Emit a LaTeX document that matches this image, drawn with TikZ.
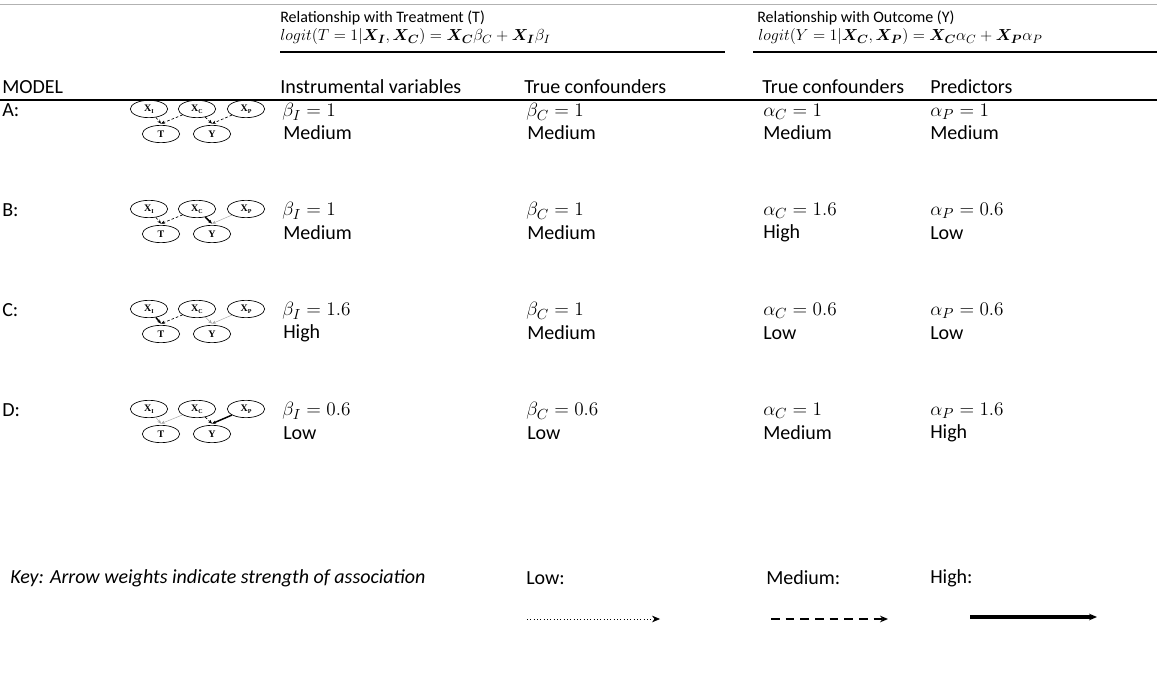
\documentclass[tikz,border=0pt]{standalone}
\usepackage{amsmath}
\usepackage{bm}
\usepackage{fontspec}
\setmainfont{Carlito}
\newfontfamily\nodefont{Liberation Serif}
\usetikzlibrary{arrows.meta,shapes.geometric}
\tikzset{
  vnode/.style={draw, ellipse, line width=0.5pt, minimum width=28pt, minimum height=13pt, inner sep=0pt,
    font=\nodefont\bfseries\fontsize{7.5}{8}\selectfont},
  tip/.style={-{Stealth[length=3pt,width=2.5pt]}},
  medium/.style={tip, line width=0.5pt, dash pattern=on 2pt off 1.5pt},
  high/.style={tip, line width=1.1pt},
  low/.style={tip, line width=0.35pt, draw=gray!70},
  txt/.style={anchor=west, inner sep=0pt},
  val/.style={txt, font=\fontsize{15.5}{17}\selectfont},
  head/.style={txt, font=\fontsize{12}{14}\selectfont},
  formula/.style={txt, font=\fontsize{12.5}{14}\selectfont},
  rule/.style={line width=0.8pt},
  keytip/.style={-{Stealth[length=6pt,width=5pt]}},
}
\newcommand{\xsub}[1]{X\raisebox{-0.35ex}{\fontsize{4.5}{5}\selectfont #1}}
\newcommand{\mdag}[6]{%
  \node[vnode] (#1I) at (149,#2) {\xsub{I}};
  \node[vnode] (#1C) at (197,#2) {\xsub{C}};
  \node[vnode] (#1P) at (246,#2) {\xsub{P}};
  \node[vnode] (#1T) at (161,#2+25) {T};
  \node[vnode] (#1Y) at (212,#2+25) {Y};
  \draw[#3] (#1I) -- ([yshift=1pt]#1T.north);
  \draw[#4] (#1C) -- ([yshift=1pt]#1T.north);
  \draw[#5] (#1C) -- ([yshift=1pt]#1Y.north);
  \draw[#6] (#1P) -- ([yshift=1pt]#1Y.north);
}
\begin{document}
\begin{tikzpicture}[x=0.75pt,y=-0.75pt,font=\fontsize{15}{17}\selectfont]
\useasboundingbox (0,0) rectangle (1157,677);
% top rule
\draw[line width=0.6pt, draw=gray!60] (0,4) -- (1157,4);
% group headers
\node[head] (h1) at (280,18) {Relationship with Treatment (T)};
\node[formula] (f1) at (280,37) {$logit(T=1|\bm{X_I},\bm{X_C}) = \bm{X_C}\beta_C + \bm{X_I}\beta_I$};
\draw[rule] (280,52) -- (725,52);
\node[head] (h2) at (757,18) {Relationship with Outcome (Y)};
\node[formula] (f2) at (758,37) {$logit(Y=1|\bm{X_C},\bm{X_P}) = \bm{X_C}\alpha_C + \bm{X_P}\alpha_P$};
\draw[rule] (753,52) -- (1157,52);
% column headers
\node[txt] (mh) at (2,87) {MODEL};
\node[txt] (c1) at (280,87) {Instrumental variables};
\node[txt] (c2) at (524,87) {True confounders};
\node[txt] (c3) at (762,87) {True confounders};
\node[txt] (c4) at (930,87) {Predictors};
\draw[line width=1.1pt] (0,100) -- (1157,100);
% rows
\node[txt] (ra) at (2,110) {A:};
\mdag{a}{109}{medium}{medium}{medium}{medium}
\node[val] (a1) at (282,112) {$\beta_I = 1$};
\node[txt] (a1b) at (283,133) {Medium};
\node[val] (a2) at (526,112) {$\beta_C = 1$};
\node[txt] (a2b) at (527,133) {Medium};
\node[val] (a3) at (763,112) {$\alpha_C = 1$};
\node[txt] (a3b) at (763,133) {Medium};
\node[val] (a4) at (930,112) {$\alpha_P = 1$};
\node[txt] (a4b) at (930,133) {Medium};

\node[txt] (rb) at (2,210) {B:};
\mdag{b}{209}{medium}{medium}{high}{low}
\node[val] (b1) at (282,211) {$\beta_I = 1$};
\node[txt] (b1b) at (283,233) {Medium};
\node[val] (b2) at (526,211) {$\beta_C = 1$};
\node[txt] (b2b) at (527,233) {Medium};
\node[val] (b3) at (763,211) {$\alpha_C = 1.6$};
\node[txt] (b3b) at (763,233) {High};
\node[val] (b4) at (930,211) {$\alpha_P = 0.6$};
\node[txt] (b4b) at (930,233) {Low};

\node[txt] (rc) at (2,310) {C:};
\mdag{c}{309}{high}{medium}{low}{low}
\node[val] (c1v) at (282,311) {$\beta_I = 1.6$};
\node[txt] (c1b) at (283,333) {High};
\node[val] (c2v) at (526,311) {$\beta_C = 1$};
\node[txt] (c2b) at (527,333) {Medium};
\node[val] (c3v) at (763,311) {$\alpha_C = 0.6$};
\node[txt] (c3b) at (763,333) {Low};
\node[val] (c4v) at (930,311) {$\alpha_P = 0.6$};
\node[txt] (c4b) at (930,333) {Low};

\node[txt] (rd) at (2,410) {D:};
\mdag{d}{409}{low}{low}{medium}{high}
\node[val] (d1) at (282,411) {$\beta_I = 0.6$};
\node[txt] (d1b) at (283,433) {Low};
\node[val] (d2) at (526,411) {$\beta_C = 0.6$};
\node[txt] (d2b) at (527,433) {Low};
\node[val] (d3) at (763,411) {$\alpha_C = 1$};
\node[txt] (d3b) at (763,433) {Medium};
\node[val] (d4) at (930,411) {$\alpha_P = 1.6$};
\node[txt] (d4b) at (930,433) {High};

% key
\node[txt] (key) at (10,578) {\itshape Key: Arrow weights indicate strength of association};
\node[txt] (klow) at (526,578) {Low:};
\node[txt] (kmed) at (766,578) {Medium:};
\node[txt] (khigh) at (930,578) {High:};
\coordinate (l0) at (527,619); \coordinate (l1) at (660,619);
\coordinate (m0) at (771,619); \coordinate (m1) at (888,619);
\coordinate (g0) at (970,617); \coordinate (g1) at (1097,617);
\draw[line width=0.5pt, dotted, keytip] (l0) -- (l1);
\draw[line width=1.6pt, dash pattern=on 6.5pt off 4.5pt, keytip] (m0) -- (m1);
\draw[line width=2.4pt, keytip] (g0) -- (g1);
\end{tikzpicture}
\end{document}
